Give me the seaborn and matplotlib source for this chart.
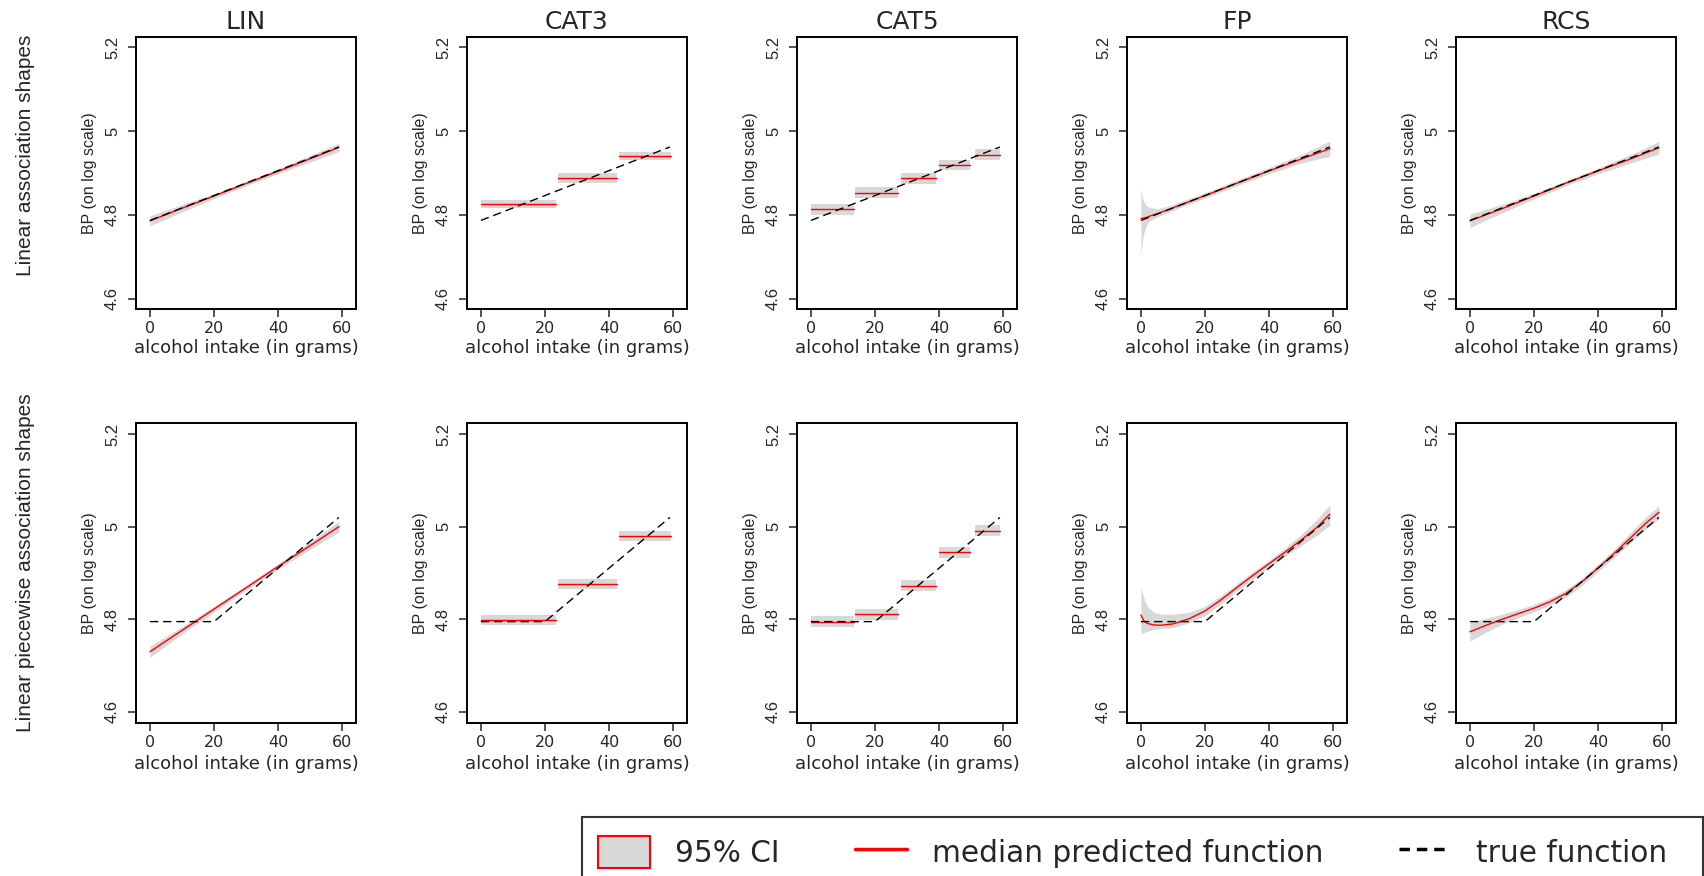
import pandas as pd
import seaborn as sb
import matplotlib.pyplot as plt
from matplotlib.patches import Patch, Rectangle
from matplotlib.lines import Line2D

# ---- data ----
methods = ['LIN', 'CAT3', 'CAT5', 'FP', 'RCS']
row_labels = ['Linear association shapes', 'Linear piecewise association shapes']

# true functions
true_x_r1 = [0, 59]
true_y_r1 = [4.787, 4.962]
true_x_r2 = [0, 20, 59]
true_y_r2 = [4.795, 4.795, 5.020]

# row 1: linear shape
lin1_x = [0, 10, 20, 30, 40, 50, 59]
lin1_med = [4.786, 4.816, 4.845, 4.875, 4.904, 4.934, 4.961]
lin1_lo = [4.774, 4.807, 4.839, 4.870, 4.898, 4.926, 4.951]
lin1_hi = [4.798, 4.825, 4.851, 4.880, 4.910, 4.942, 4.971]

cat3_start = [0, 24, 43]
cat3_end = [23.5, 42.5, 59.5]
cat3_1_med = [4.826, 4.888, 4.940]
cat3_1_lo = [4.816, 4.877, 4.930]
cat3_1_hi = [4.836, 4.899, 4.950]

cat5_start = [0, 13.7, 28.1, 40.0, 51.2]
cat5_end = [13.3, 27.2, 39.2, 49.8, 59.0]
cat5_1_med = [4.814, 4.853, 4.887, 4.919, 4.943]
cat5_1_lo = [4.801, 4.840, 4.874, 4.906, 4.930]
cat5_1_hi = [4.827, 4.866, 4.900, 4.932, 4.956]

fp1_x = [0, 0.5, 1, 2, 3, 5, 8, 12, 20, 30, 40, 50, 59]
fp1_med = [4.792, 4.792, 4.793, 4.795, 4.798, 4.803, 4.811, 4.823, 4.846, 4.876, 4.905, 4.933, 4.958]
fp1_lo = [4.707, 4.740, 4.760, 4.780, 4.787, 4.795, 4.804, 4.817, 4.840, 4.870, 4.898, 4.924, 4.940]
fp1_hi = [4.864, 4.840, 4.830, 4.820, 4.818, 4.815, 4.820, 4.831, 4.853, 4.883, 4.913, 4.944, 4.976]

rcs1_x = [0, 10, 20, 30, 40, 50, 59]
rcs1_med = [4.786, 4.815, 4.845, 4.876, 4.905, 4.933, 4.960]
rcs1_lo = [4.770, 4.805, 4.838, 4.870, 4.898, 4.923, 4.945]
rcs1_hi = [4.802, 4.825, 4.852, 4.882, 4.912, 4.943, 4.975]

# row 2: linear piecewise shape
lin2_x = [0, 10, 20, 30, 40, 50, 59]
lin2_med = [4.730, 4.776, 4.822, 4.868, 4.914, 4.959, 5.000]
lin2_lo = [4.718, 4.768, 4.816, 4.863, 4.908, 4.951, 4.988]
lin2_hi = [4.742, 4.784, 4.828, 4.873, 4.920, 4.967, 5.012]

cat3_2_med = [4.799, 4.877, 4.980]
cat3_2_lo = [4.788, 4.866, 4.969]
cat3_2_hi = [4.810, 4.888, 4.991]

cat5_2_med = [4.795, 4.811, 4.873, 4.945, 4.991]
cat5_2_lo = [4.783, 4.799, 4.861, 4.933, 4.979]
cat5_2_hi = [4.807, 4.823, 4.885, 4.957, 5.003]

fp2_x = [0, 1, 2, 4, 6, 10, 15, 20, 25, 30, 35, 40, 45, 50, 55, 59]
fp2_med = [4.809, 4.796, 4.791, 4.788, 4.787, 4.790, 4.801, 4.818, 4.842, 4.869, 4.895,
           4.920, 4.945, 4.971, 4.999, 5.027]
fp2_lo = [4.768, 4.771, 4.774, 4.778, 4.780, 4.782, 4.792, 4.808, 4.833, 4.861, 4.887,
          4.912, 4.936, 4.959, 4.982, 5.003]
fp2_hi = [4.868, 4.845, 4.828, 4.815, 4.811, 4.811, 4.815, 4.828, 4.851, 4.877, 4.903,
          4.928, 4.954, 4.983, 5.016, 5.047]

rcs2_x = [0, 5, 10, 15, 20, 25, 30, 35, 40, 45, 50, 55, 59]
rcs2_med = [4.773, 4.787, 4.800, 4.812, 4.824, 4.838, 4.856, 4.881, 4.911, 4.942, 4.975, 5.008, 5.031]
rcs2_lo = [4.753, 4.772, 4.789, 4.803, 4.816, 4.830, 4.848, 4.873, 4.903, 4.933, 4.964, 4.995, 5.017]
rcs2_hi = [4.793, 4.802, 4.811, 4.821, 4.832, 4.846, 4.864, 4.889, 4.919, 4.951, 4.986, 5.021, 5.045]

y_ticks = [4.6, 4.8, 5.0, 5.2]
y_ticklabels = ['4.6', '4.8', '5', '5.2']
x_ticks = [0, 20, 40, 60]


def curve_frame(x, med, lo, hi):
    return pd.DataFrame({'x': x, 'med': med, 'lo': lo, 'hi': hi, 'seg': 0})


def cat_frame(starts, ends, med, lo, hi):
    # one flat segment per category
    rows = []
    for k in range(len(med)):
        for xx in (starts[k], ends[k]):
            rows.append((xx, med[k], lo[k], hi[k], k))
    return pd.DataFrame(rows, columns=['x', 'med', 'lo', 'hi', 'seg'])


panels = [
    [curve_frame(lin1_x, lin1_med, lin1_lo, lin1_hi),
     cat_frame(cat3_start, cat3_end, cat3_1_med, cat3_1_lo, cat3_1_hi),
     cat_frame(cat5_start, cat5_end, cat5_1_med, cat5_1_lo, cat5_1_hi),
     curve_frame(fp1_x, fp1_med, fp1_lo, fp1_hi),
     curve_frame(rcs1_x, rcs1_med, rcs1_lo, rcs1_hi)],
    [curve_frame(lin2_x, lin2_med, lin2_lo, lin2_hi),
     cat_frame(cat3_start, cat3_end, cat3_2_med, cat3_2_lo, cat3_2_hi),
     cat_frame(cat5_start, cat5_end, cat5_2_med, cat5_2_lo, cat5_2_hi),
     curve_frame(fp2_x, fp2_med, fp2_lo, fp2_hi),
     curve_frame(rcs2_x, rcs2_med, rcs2_lo, rcs2_hi)],
]
trues = [(true_x_r1, true_y_r1), (true_x_r2, true_y_r2)]

# ---- style ----
sb.set_style("ticks")
plt.rcParams['font.family'] = ['DejaVu Sans']
plt.rcParams['axes.linewidth'] = 1.4
plt.rcParams['xtick.major.size'] = 5.5
plt.rcParams['ytick.major.size'] = 5.5
plt.rcParams['xtick.major.width'] = 1.1
plt.rcParams['ytick.major.width'] = 1.1

CI_GREY = '#d8d8d8'
DASH = (0, (6, 3.5))
W, H = 1704, 876
col_left = [136, 467, 797, 1127, 1456]
box_w = 220
rows_px = [(37, 309), (423, 723)]

fig = plt.figure(figsize=(W / 100, H / 100), dpi=100)

for r in range(2):
    top, bottom = rows_px[r]
    for c in range(5):
        ax = fig.add_axes([col_left[c] / W, 1 - bottom / H, box_w / W, (bottom - top) / H])
        df = panels[r][c]
        for _, g in df.groupby('seg'):
            ax.fill_between(g['x'], g['lo'], g['hi'], color=CI_GREY, lw=0)
        sb.lineplot(data=df, x='x', y='med', units='seg', estimator=None,
                    color='red', lw=1.0, legend=False, ax=ax)
        sb.lineplot(x=trues[r][0], y=trues[r][1], color='black', lw=1.0,
                    linestyle=DASH, legend=False, ax=ax)
        ax.set_xlim(-4.35, 64.35)
        ax.set_ylim(4.576, 5.224)
        ax.set_xticks(x_ticks)
        ax.set_xticklabels([str(t) for t in x_ticks], fontsize=11.5)
        ax.set_yticks(y_ticks)
        ax.set_yticklabels(y_ticklabels, rotation=90, va='center',
                           fontfamily='Liberation Sans', fontsize=12)
        ax.tick_params(axis='x', pad=3)
        ax.tick_params(axis='y', pad=6)
        ax.set_xlabel('alcohol intake (in grams)', fontsize=13,
                      labelpad=2 if r == 0 else 4)
        ax.set_ylabel('BP (on log scale)', fontfamily='Liberation Sans',
                      fontsize=11.5, labelpad=6)
        for s in ax.spines.values():
            s.set_visible(True)
            s.set_color('black')
        if r == 0:
            ax.set_title(methods[c], fontsize=18, pad=6)

fig.text(26 / W, 1 - 155 / H, row_labels[0], rotation=90, ha='center', va='center',
         fontfamily='Liberation Sans', fontsize=15)
fig.text(26 / W, 1 - 563 / H, row_labels[1], rotation=90, ha='center', va='center',
         fontfamily='Liberation Sans', fontsize=15)

# legend box, cut off at the figure border like the original
fig.patches.append(Rectangle((582 / W, -0.05), (1703 - 582) / W, 0.05 + (876 - 817) / H,
                             transform=fig.transFigure, fill=False,
                             edgecolor='#333333', lw=1.5, clip_on=False))
handles = [Patch(facecolor=CI_GREY, edgecolor='red', lw=1.5),
           Line2D([], [], color='red', lw=2.5),
           Line2D([], [], color='black', lw=2.5, linestyle=(0, (3, 2)))]
fig.legend(handles, ['95% CI', 'median predicted function', 'true function'],
           loc='center left', bbox_to_anchor=(598 / W, 1 - 852 / H), ncol=3,
           frameon=False, fontsize=21.3, handlelength=1.75, handleheight=1.3,
           handletextpad=0.85, columnspacing=2.55, borderpad=0, borderaxespad=0)

fig.savefig('out.png', dpi=100)
